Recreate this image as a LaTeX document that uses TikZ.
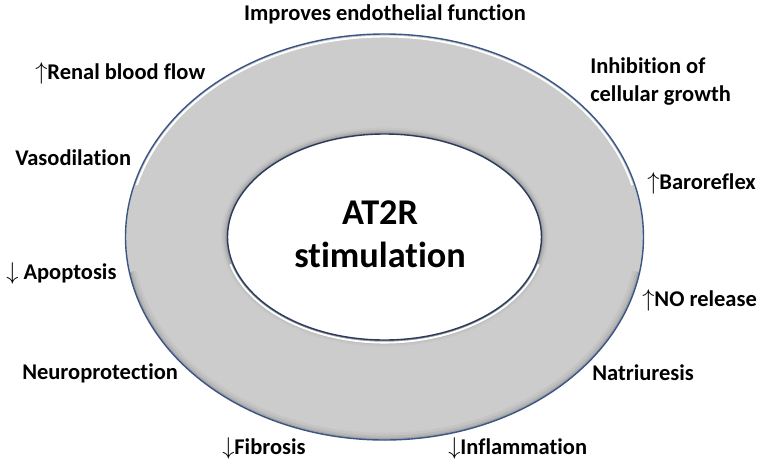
\documentclass[tikz,border=0pt]{standalone}
\usepackage{fontspec}
\setmainfont[Ligatures=NoCommon]{Carlito}
\usetikzlibrary{positioning}
\definecolor{ringgray}{RGB}{204,204,204}
\definecolor{rimblue}{RGB}{58,86,135}

\tikzset{
  effect/.style={anchor=west, inner sep=0pt, font=\bfseries\fontsize{16}{19.5}\selectfont},
}

\begin{document}
\begin{tikzpicture}
  \useasboundingbox (-9.6125,-5.725) rectangle (9.4875,5.925);

  % Ring
  \fill[ringgray, even odd rule] (0,0) ellipse (6.475 and 5.075) (0,0) ellipse (3.925 and 2.575);

  % Shadow round the hole
  \foreach \d/\c in {0.16/45, 0.11/53, 0.07/64, 0.035/80}
    \fill[gray!\c] (0,0) ellipse ({3.925+\d} and {2.575+\d});

  % Shadow along the lower rim
  \begin{scope}
    \clip (0,0) ellipse (6.475 and 5.075);
    \foreach \w/\c in {0.36/46, 0.22/56, 0.1/72}
      \draw[gray!\c, line width=\w cm] (190:6.475 and 5.075) arc[start angle=190, end angle=350, x radius=6.475, y radius=5.075];
  \end{scope}

  % Highlights
  \draw[white, line width=1.3pt] (15:6.41 and 5.01) arc[start angle=15, end angle=165, x radius=6.41, y radius=5.01];
  \draw[white, line width=1.3pt] (195:3.99 and 2.64) arc[start angle=195, end angle=345, x radius=3.99, y radius=2.64];

  % Rims
  \draw[rimblue, line width=1pt] (0,0) ellipse (6.475 and 5.075);
  \filldraw[fill=white, draw=rimblue!70!black, line width=1pt] (0,0) ellipse (3.925 and 2.575);

  % Centre
  \node[align=center, font=\bfseries\fontsize{25.8}{30}\selectfont] (at2r) at (-0.11, 0.07) {AT2R\\stimulation};

  % Effects
  \node[font=\bfseries\fontsize{16}{19.5}\selectfont] (endo) at (0.0125, 5.575) {Improves endothelial function};
  \node[effect] (renal) at (-8.7375, 4.1) {$\uparrow$Renal blood flow};
  \node[effect] (vaso) at (-9.2375, 1.975) {Vasodilation};
  \node[effect] (apop) at (-9.4625, -0.9) {$\downarrow$ Apoptosis};
  \node[effect] (neuro) at (-9.0625, -3.4) {Neuroprotection};
  \node[effect] (fibro) at (-4.0625, -5.275) {$\downarrow$Fibrosis};
  \node[effect] (inflam) at (1.5875, -5.275) {$\downarrow$Inflammation};
  \node[effect] (natri) at (5.1875, -3.4) {Natriuresis};
  \node[effect] (no) at (6.4375, -1.575) {$\uparrow$NO release};
  \node[effect] (baro) at (6.5625, 1.35) {$\uparrow$Baroreflex};
  \node[effect, align=left] (growth) at (5.1375, 3.8875) {Inhibition of\\cellular growth};
\end{tikzpicture}
\end{document}
